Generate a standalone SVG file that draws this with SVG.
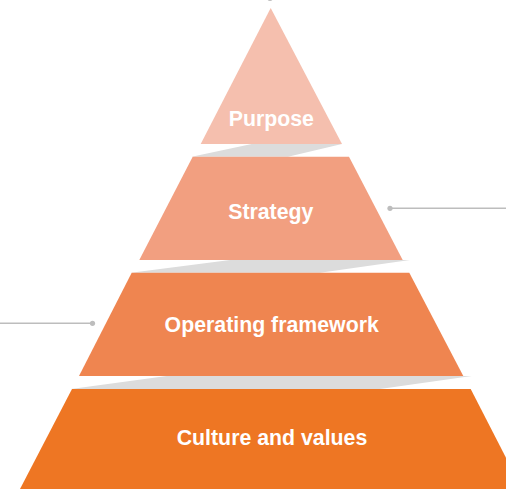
<svg xmlns="http://www.w3.org/2000/svg" width="506" height="489" viewBox="0 0 506 489">
  <style>
    .lbl { font-family: "Liberation Sans", Arial, sans-serif; font-weight: bold; font-size: 21.3px; fill: #ffffff; text-anchor: middle; }
    .band { fill: #dcdcdc; }
    .conn { stroke: #bdbdbd; stroke-width: 1.5; fill: none; }
    .dot { fill: #bdbdbd; }
  </style>
  <rect width="506" height="489" fill="#ffffff"/>
  <g id="bands">
    <polygon class="band" points="251.7,144 342,144 288,156.7 191.7,156.7"/>
    <polygon class="band" points="230,260 410,260 320,272.7 131,272.7"/>
    <polygon class="band" points="166.7,376 471.7,376 380,389 71,389"/>
  </g>
  <g id="purpose">
    <polygon points="270.7,8 342,144 200.7,144" fill="#f5bfae"/>
    <text class="lbl" x="271.3" y="126">Purpose</text>
  </g>
  <g id="strategy">
    <polygon points="192.7,156.7 349,156.7 402.7,260 139.3,260" fill="#f29f80"/>
    <text class="lbl" x="270.8" y="219">Strategy</text>
  </g>
  <g id="operating">
    <polygon points="131.7,272.7 409.3,272.7 463.3,376 79,376" fill="#ef8550"/>
    <text class="lbl" x="271.7" y="332">Operating framework</text>
  </g>
  <g id="culture">
    <polygon points="72,389 470.7,389 522,489 20,489" fill="#ee7623"/>
    <text class="lbl" x="272" y="445">Culture and values</text>
  </g>
  <g id="connectors">
    <line class="conn" x1="390" y1="208.3" x2="506" y2="208.3"/>
    <circle class="dot" cx="390" cy="208.3" r="2.6"/>
    <line class="conn" x1="0" y1="323.3" x2="92.5" y2="323.3"/>
    <circle class="dot" cx="92.5" cy="323.3" r="2.6"/>
    <circle class="dot" cx="270" cy="-1.5" r="2.6"/>
  </g>
</svg>
